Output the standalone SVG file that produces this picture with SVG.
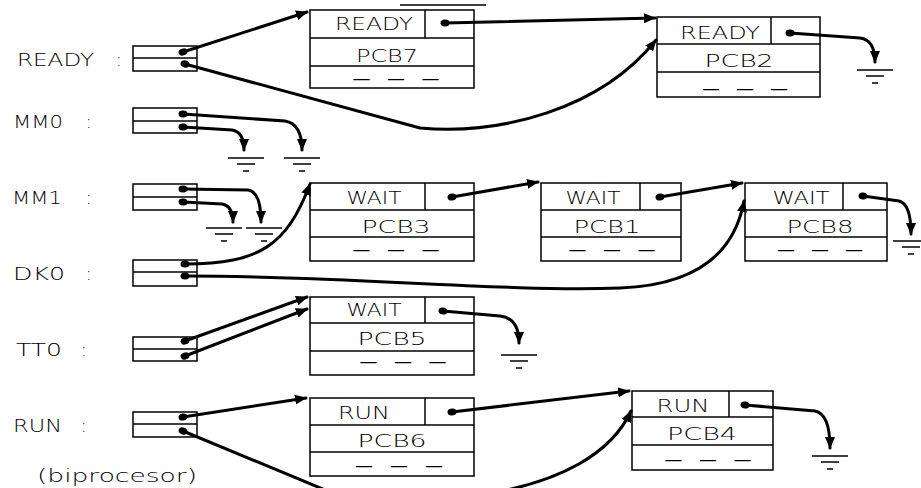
<svg xmlns="http://www.w3.org/2000/svg" width="921" height="488" viewBox="0 0 921 488">
<style>
.bg{fill:#fff}
.box{fill:none;stroke:#000;stroke-width:1.5}
.t{font-family:"DejaVu Sans","Liberation Sans",Arial,sans-serif;font-size:18px;font-weight:200;fill:#000}
.d{font-weight:400}
.m{text-anchor:middle}
.c{fill:none;stroke:#000;stroke-width:3;stroke-linecap:round;stroke-linejoin:round;marker-start:url(#dot);marker-end:url(#arr)}
.g{stroke:#000;stroke-width:1.5}
</style>
<defs>
<marker id="arr" markerUnits="userSpaceOnUse" markerWidth="12" markerHeight="10" refX="11" refY="5" orient="auto"><path d="M0,0 L12,5 L0,10 z" fill="#000"/></marker>
<marker id="dot" markerUnits="userSpaceOnUse" markerWidth="10" markerHeight="10" refX="5" refY="5" orient="auto"><ellipse cx="5" cy="5" rx="4.5" ry="3.5" fill="#000"/></marker>
<g id="ground"><line class="g" x1="-18" y1="0" x2="18" y2="0"/><line class="g" x1="-9" y1="6" x2="9" y2="6"/><line class="g" x1="-3" y1="13" x2="3" y2="13"/></g>
</defs>
<rect class="bg" x="0" y="0" width="921" height="488"/>

<g id="heads">
<g id="head-ready"><text class="t" x="17" y="66"><tspan textLength="77" lengthAdjust="spacingAndGlyphs">READY</tspan><tspan x="110"> :</tspan></text><rect class="box" x="133" y="46" width="64" height="25"/><line class="box" x1="133" y1="58" x2="197" y2="58"/></g>
<g id="head-mm0"><text class="t" x="13" y="128"><tspan textLength="50" lengthAdjust="spacingAndGlyphs">MM0</tspan><tspan x="80"> :</tspan></text><rect class="box" x="133" y="108" width="64" height="25"/><line class="box" x1="133" y1="121" x2="197" y2="121"/></g>
<g id="head-mm1"><text class="t" x="12" y="204"><tspan textLength="50" lengthAdjust="spacingAndGlyphs">MM1</tspan><tspan x="80"> :</tspan></text><rect class="box" x="133" y="184" width="64" height="26"/><line class="box" x1="133" y1="197" x2="197" y2="197"/></g>
<g id="head-dk0"><text class="t" x="13" y="280"><tspan textLength="52" lengthAdjust="spacingAndGlyphs">DK0</tspan><tspan x="80"> :</tspan></text><rect class="box" x="133" y="260" width="64" height="26"/><line class="box" x1="133" y1="272" x2="197" y2="272"/></g>
<g id="head-tt0"><text class="t" x="16" y="356"><tspan textLength="46" lengthAdjust="spacingAndGlyphs">TT0</tspan><tspan x="75"> :</tspan></text><rect class="box" x="133" y="337" width="64" height="24"/><line class="box" x1="133" y1="349" x2="197" y2="349"/></g>
<g id="head-run"><text class="t" x="13" y="432"><tspan textLength="49" lengthAdjust="spacingAndGlyphs">RUN</tspan><tspan x="75"> :</tspan></text><rect class="box" x="133" y="412" width="64" height="25"/><line class="box" x1="133" y1="424" x2="197" y2="424"/>
<text class="t" x="37" y="482" textLength="160" lengthAdjust="spacingAndGlyphs">(biprocesor)</text></g>
</g>

<g id="pcb7"><rect class="box" x="310" y="10" width="164" height="78"/><line class="box" x1="310" y1="38" x2="474" y2="38"/><line class="box" x1="310" y1="66" x2="474" y2="66"/><line class="box" x1="425" y1="10" x2="425" y2="38"/>
<line class="box" x1="400" y1="5" x2="486" y2="5"/>
<text class="t m" x="374" y="30" textLength="78" lengthAdjust="spacingAndGlyphs">READY</text><text class="t m" x="387" y="62" textLength="62" lengthAdjust="spacingAndGlyphs">PCB7</text><text class="t m d" x="396" y="84" textLength="87" lengthAdjust="spacing">— — —</text></g>

<g id="pcb2"><rect class="box" x="657" y="17" width="163" height="80"/><line class="box" x1="657" y1="44" x2="820" y2="44"/><line class="box" x1="657" y1="72" x2="820" y2="72"/><line class="box" x1="771" y1="17" x2="771" y2="44"/>
<text class="t m" x="720" y="39" textLength="80" lengthAdjust="spacingAndGlyphs">READY</text><text class="t m" x="739" y="67" textLength="69" lengthAdjust="spacingAndGlyphs">PCB2</text><text class="t m d" x="745" y="94" textLength="86" lengthAdjust="spacing">— — —</text></g>

<g id="pcb3"><rect class="box" x="310" y="183" width="164" height="78"/><line class="box" x1="310" y1="210" x2="474" y2="210"/><line class="box" x1="310" y1="237" x2="474" y2="237"/><line class="box" x1="425" y1="183" x2="425" y2="210"/>
<text class="t m" x="374" y="204" textLength="55" lengthAdjust="spacingAndGlyphs">WAIT</text><text class="t m" x="396" y="233" textLength="69" lengthAdjust="spacingAndGlyphs">PCB3</text><text class="t m d" x="396" y="255" textLength="87" lengthAdjust="spacing">— — —</text></g>

<g id="pcb1"><rect class="box" x="541" y="183" width="140" height="78"/><line class="box" x1="541" y1="210" x2="681" y2="210"/><line class="box" x1="541" y1="237" x2="681" y2="237"/><line class="box" x1="640" y1="183" x2="640" y2="210"/>
<text class="t m" x="593" y="204" textLength="55" lengthAdjust="spacingAndGlyphs">WAIT</text><text class="t m" x="607" y="233" textLength="67" lengthAdjust="spacingAndGlyphs">PCB1</text><text class="t m d" x="612" y="255" textLength="87" lengthAdjust="spacing">— — —</text></g>

<g id="pcb8"><rect class="box" x="745" y="183" width="142" height="78"/><line class="box" x1="745" y1="210" x2="887" y2="210"/><line class="box" x1="745" y1="237" x2="887" y2="237"/><line class="box" x1="843" y1="183" x2="843" y2="210"/>
<text class="t m" x="801" y="204" textLength="57" lengthAdjust="spacingAndGlyphs">WAIT</text><text class="t m" x="820" y="233" textLength="67" lengthAdjust="spacingAndGlyphs">PCB8</text><text class="t m d" x="820" y="255" textLength="86" lengthAdjust="spacing">— — —</text></g>

<g id="pcb5"><rect class="box" x="310" y="297" width="164" height="78"/><line class="box" x1="310" y1="323" x2="474" y2="323"/><line class="box" x1="310" y1="351" x2="474" y2="351"/><line class="box" x1="425" y1="297" x2="425" y2="323"/>
<text class="t m" x="374" y="316" textLength="55" lengthAdjust="spacingAndGlyphs">WAIT</text><text class="t m" x="392" y="345" textLength="69" lengthAdjust="spacingAndGlyphs">PCB5</text><text class="t m d" x="403" y="367" textLength="87" lengthAdjust="spacing">— — —</text></g>

<g id="pcb6"><rect class="box" x="310" y="398" width="164" height="78"/><line class="box" x1="310" y1="425" x2="474" y2="425"/><line class="box" x1="310" y1="452" x2="474" y2="452"/><line class="box" x1="425" y1="398" x2="425" y2="425"/>
<text class="t m" x="364" y="419" textLength="52" lengthAdjust="spacingAndGlyphs">RUN</text><text class="t m" x="392" y="447" textLength="69" lengthAdjust="spacingAndGlyphs">PCB6</text><text class="t m d" x="399" y="471" textLength="88" lengthAdjust="spacing">— — —</text></g>

<g id="pcb4"><rect class="box" x="632" y="391" width="141" height="79"/><line class="box" x1="632" y1="417" x2="773" y2="417"/><line class="box" x1="632" y1="445" x2="773" y2="445"/><line class="box" x1="729" y1="391" x2="729" y2="417"/>
<text class="t m" x="683" y="412" textLength="53" lengthAdjust="spacingAndGlyphs">RUN</text><text class="t m" x="702" y="440" textLength="70" lengthAdjust="spacingAndGlyphs">PCB4</text><text class="t m d" x="708" y="465" textLength="87" lengthAdjust="spacing">— — —</text></g>

<g id="grounds">
<use href="#ground" x="875" y="70"/>
<use href="#ground" x="302" y="158"/>
<use href="#ground" x="246" y="158"/>
<use href="#ground" x="264" y="228"/>
<use href="#ground" x="224" y="228"/>
<use href="#ground" x="911" y="241"/>
<use href="#ground" x="519" y="355"/>
<use href="#ground" x="830" y="456"/>
</g>

<g id="connectors">
<path class="c" d="M183,52 L307,12"/>
<path class="c" d="M185,64 L420,128 C500,135 600,110 656,40"/>
<path class="c" d="M445,23 L655,18"/>
<path class="c" d="M790,33 L860,38 Q875,40 875,62"/>
<path class="c" d="M183,114 L285,121 Q302,124 302,150"/>
<path class="c" d="M183,127 L232,130 Q244,132 244,150"/>
<path class="c" d="M183,189 L248,190 Q261,192 261,222"/>
<path class="c" d="M183,202 L222,204 Q233,206 233,222"/>
<path class="c" d="M185,264 C260,264 287,245 310,184"/>
<path class="c" d="M185,276 C350,276 500,292 620,288 C700,285 735,250 744,201"/>
<path class="c" d="M452,197 L538,182"/>
<path class="c" d="M660,197 L742,183"/>
<path class="c" d="M863,196 L899,201 Q911,204 911,234"/>
<path class="c" d="M185,341 L307,297"/>
<path class="c" d="M185,356 L307,309"/>
<path class="c" d="M443,311 L500,316 Q519,318 519,343"/>
<path class="c" d="M183,417 L306,398"/>
<path class="c" d="M183,431 L330,492 C420,510 590,500 631,411"/>
<path class="c" d="M452,412 L629,391"/>
<path class="c" d="M745,405 L815,411 Q830,414 830,448"/>
</g>
</svg>
